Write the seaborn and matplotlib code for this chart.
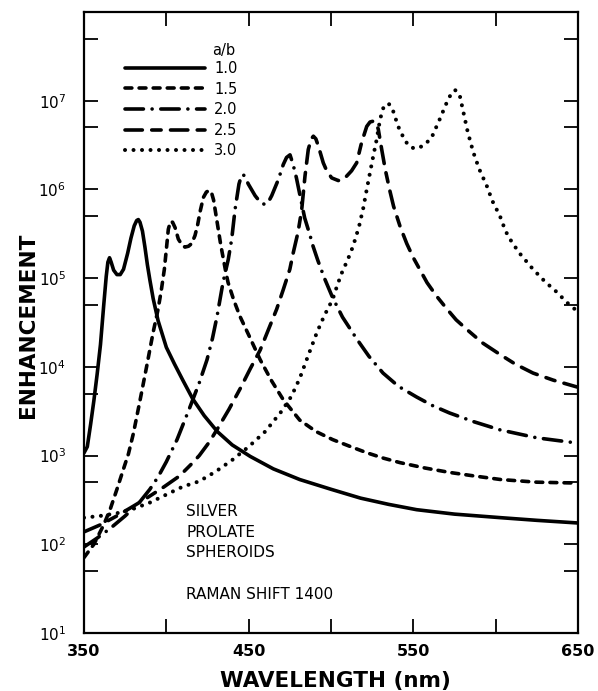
import numpy as np
import pandas as pd
import matplotlib
matplotlib.use("Agg")
import matplotlib.pyplot as plt
import seaborn as sns
from matplotlib.ticker import FixedLocator, NullFormatter, NullLocator

# ---------------- data (log10 of enhancement) ----------------
ratios = ["1.0", "1.5", "2.0", "2.5", "3.0"]

wl_10 = [350, 352, 354, 356, 358, 360, 362, 363.5, 364.5, 365.5, 366.5, 368, 370, 372, 374,
         376.5, 378.5, 380.5, 382, 383, 384, 385.5, 387, 388.5, 390, 392, 395, 400, 405, 410,
         416, 423, 431, 440, 451, 465, 481, 500, 518, 535, 552, 575, 603, 625, 650]
log_10 = [3.03, 3.10, 3.35, 3.62, 3.92, 4.25, 4.70, 5.02, 5.18, 5.23, 5.18, 5.09, 5.04, 5.04, 5.10,
          5.28, 5.45, 5.59, 5.65, 5.66, 5.63, 5.53, 5.35, 5.15, 4.98, 4.77, 4.52, 4.22, 4.03, 3.85,
          3.64, 3.45, 3.27, 3.12, 2.99, 2.85, 2.73, 2.62, 2.52, 2.45, 2.39, 2.34, 2.30, 2.27, 2.24]

wl_15 = [350, 356, 362, 366, 370, 374, 377, 380, 384, 388, 392, 395, 397, 398.8, 400.2, 401.2,
         402.5, 403.8, 405.3, 407.3, 409.3, 411.3, 413.5, 415.4, 417.4, 419, 420.5, 422.5, 424.3,
         426, 427.5, 428.7, 430.6, 433, 436, 437.5, 441, 444.7, 450, 457, 464, 471, 481, 491, 501,
         512, 522, 532, 542, 557, 572, 587, 603, 625, 650]
log_15 = [1.85, 2.00, 2.22, 2.40, 2.62, 2.85, 3.02, 3.25, 3.62, 4.00, 4.39, 4.65, 4.87, 5.10, 5.36, 5.55,
          5.64, 5.63, 5.57, 5.44, 5.38, 5.35, 5.36, 5.39, 5.48, 5.60, 5.75, 5.91, 5.97,
          5.99, 5.96, 5.88, 5.66, 5.38, 5.08, 4.95, 4.75, 4.57, 4.36, 4.08, 3.84, 3.63, 3.40, 3.27, 3.18,
          3.10, 3.03, 2.97, 2.92, 2.86, 2.81, 2.77, 2.73, 2.70, 2.69]

wl_20 = [350, 358, 366, 375, 384, 390, 395, 400, 406.5, 414, 420, 424.7, 428, 430.8, 434.4, 437.6,
         439.7, 441.7, 444.1, 445.5, 446.5, 447.5, 449.8, 453.9, 457.3, 459.9, 462, 464, 468, 471,
         473, 475.1, 477, 479, 481.2, 484, 487.3, 489.1, 492, 496, 501, 507, 515.8, 523, 531.6, 541,
         552, 562, 572, 587, 602.6, 625, 650]
log_20 = [1.97, 2.07, 2.18, 2.32, 2.48, 2.62, 2.76, 2.93, 3.18, 3.53, 3.82, 4.08, 4.32, 4.57, 4.95, 5.21,
          5.44, 5.77, 6.06, 6.15, 6.17, 6.15, 6.06, 5.93, 5.85, 5.83, 5.86, 5.93, 6.11, 6.28,
          6.36, 6.39, 6.28, 6.13, 5.93, 5.68, 5.48, 5.36, 5.20, 5.00, 4.78, 4.56, 4.31, 4.12, 3.93, 3.78,
          3.66, 3.56, 3.48, 3.38, 3.29, 3.20, 3.14]

wl_25 = [350, 360, 370, 380, 388, 398, 408, 415, 420, 426, 431, 438, 445, 451, 457, 462, 467, 471,
         475, 477, 480, 482.2, 484.2, 486.2, 488, 489.3, 490.8, 492.3, 495.3, 497.4, 500.4, 504.4,
         507, 509.5, 512.5, 515.6, 518.6, 521.7, 523.7, 525.7, 527.3, 528.7, 530.8, 533, 535.8, 538,
         542, 546, 550, 558.3, 564, 570.5, 576, 582.6, 592, 602.6, 612, 622.7, 635, 650]
log_25 = [2.14, 2.22, 2.32, 2.43, 2.52, 2.64, 2.77, 2.90, 3.00, 3.15, 3.30, 3.52, 3.76, 3.98, 4.19, 4.42, 4.65, 4.87,
          5.10, 5.28, 5.52, 5.77, 6.15, 6.45, 6.57, 6.60, 6.57, 6.49, 6.30, 6.21, 6.13, 6.10,
          6.11, 6.15, 6.21, 6.30, 6.53, 6.71, 6.76, 6.77, 6.75, 6.68, 6.45, 6.22, 5.98, 5.81,
          5.58, 5.39, 5.23, 4.95, 4.80, 4.65, 4.53, 4.42, 4.27, 4.14, 4.03, 3.93, 3.85, 3.77]

wl_30 = [350, 360, 370, 380, 390, 400, 410, 420, 430, 440, 450, 460, 470, 476, 481, 486, 491.5, 496,
         501, 504, 507, 510, 513.4, 517, 519.6, 521.7, 523.7, 525.7, 527.7, 529.8, 531.8, 533.5,
         534.8, 536.3, 537.8, 540.8, 544.9, 548, 551, 556, 561, 566, 570.3, 573, 575.3, 577, 578.3,
         580.3, 583, 586.4, 590, 594.6, 598, 602.6, 606, 610, 615, 622.7, 630, 637.3, 643, 650]
log_30 = [2.30, 2.32, 2.35, 2.40, 2.47, 2.56, 2.65, 2.71, 2.82, 2.95, 3.10, 3.27, 3.50, 3.67, 3.87, 4.12, 4.39, 4.58,
          4.76, 4.93, 5.08, 5.20, 5.36, 5.58, 5.79, 6.00, 6.19, 6.38, 6.56, 6.79, 6.92, 6.96,
          6.97, 6.94, 6.88, 6.71, 6.55, 6.48, 6.46, 6.49, 6.58, 6.79, 6.98, 7.08, 7.12, 7.10, 7.05,
          6.88, 6.65, 6.42, 6.23, 6.04, 5.87, 5.70, 5.53, 5.40, 5.27, 5.10, 4.96, 4.84, 4.73, 4.62]

x_ticks = [350, 400, 450, 500, 550, 600, 650]
x_tick_labels = ["350", "", "450", "", "550", "", "650"]
y_ticks = [1e1, 1e2, 1e3, 1e4, 1e5, 1e6, 1e7, 1e8]
y_tick_labels = ["$10^{1}$", "$10^{2}$", "$10^{3}$", "$10^{4}$", "$10^{5}$", "$10^{6}$", "$10^{7}$", ""]
y_minor_ticks = [5e1, 5e2, 5e3, 5e4, 5e5, 5e6, 5e7]

annotation_lines = ["SILVER", "PROLATE", "SPHEROIDS"]
annotation_shift = "RAMAN SHIFT 1400"

# ---------------- figure ----------------
sns.set_theme(style="ticks")
plt.rcParams["font.family"] = ["DejaVu Sans"]
plt.rcParams["mathtext.default"] = "regular"
plt.rcParams["axes.linewidth"] = 1.6
plt.rcParams["text.color"] = "black"
plt.rcParams["axes.labelcolor"] = "black"
plt.rcParams["xtick.color"] = "black"
plt.rcParams["ytick.color"] = "black"
plt.rcParams["axes.edgecolor"] = "black"

fig = plt.figure(figsize=(5.98, 6.91), dpi=100)
ax = fig.add_axes([84 / 598, 58 / 691, 494 / 598, 621 / 691])

frames = []
for r, wl, lg in zip(ratios, [wl_10, wl_15, wl_20, wl_25, wl_30],
                     [log_10, log_15, log_20, log_25, log_30]):
    frames.append(pd.DataFrame({"wavelength": wl,
                                "enhancement": np.power(10.0, lg),
                                "a/b": r}))
df = pd.concat(frames, ignore_index=True)

dash_map = {"1.0": "",
            "1.5": (1.9, 2.0),
            "2.0": (5.1, 2.4, 0.01, 2.4),
            "2.5": (4.8, 2.6, 2.6, 2.6),
            "3.0": (0.01, 2.0)}

sns.lineplot(data=df, x="wavelength", y="enhancement", style="a/b", style_order=ratios,
             dashes=dash_map, color="black", linewidth=2.6, estimator=None, sort=False,
             legend=False, ax=ax, dash_capstyle="round", solid_capstyle="round")

# dotted curve: slightly bigger, well separated round dots
dotted = ax.lines[4]
dotted.set_linewidth(2.9)
dotted.set_dashes((0.01, 2.1))

ax.set_yscale("log")
ax.set_xlim(350, 650)
ax.set_ylim(1e1, 1e8)

ax.xaxis.set_major_locator(FixedLocator(x_ticks))
ax.set_xticklabels(x_tick_labels)
ax.xaxis.set_minor_locator(NullLocator())
ax.yaxis.set_major_locator(FixedLocator(y_ticks))
ax.set_yticklabels(y_tick_labels)
ax.yaxis.set_minor_locator(FixedLocator(y_minor_ticks))
ax.yaxis.set_minor_formatter(NullFormatter())

ax.tick_params(which="both", direction="in", length=10, width=1.3, top=True, right=True)
ax.tick_params(axis="x", labelsize=11.5, pad=8)
ax.tick_params(axis="y", labelsize=11, pad=13)
for lbl in ax.get_xticklabels():
    lbl.set_fontweight("bold")

ax.set_xlabel("WAVELENGTH (nm)", fontsize=15.5, fontweight="bold", color="black")
ax.xaxis.set_label_coords((335 - 84) / 494, (633 - 671) / 621)
ax.set_ylabel("ENHANCEMENT", fontsize=15.5, fontweight="bold", color="black")
ax.yaxis.set_label_coords((38 - 84) / 494, (633 - 325) / 621)

# legend
handles = ax.lines[:5]
ax.legend(handles, ratios, loc="upper left",
          bbox_to_anchor=((125 - 84) / 494, (633 - 61) / 621),
          frameon=False, fontsize=10.5, handlelength=5.5, handletextpad=0.6,
          labelspacing=0.38, borderpad=0, borderaxespad=0)
ax.text((212 - 84) / 494, (633 - 50) / 621, "a/b", fontsize=10.5, ha="left", va="center",
        transform=ax.transAxes)

for txt, yb in zip(annotation_lines, [516, 537, 557]):
    ax.text((186 - 84) / 494, (633 - yb) / 621, txt, fontsize=11, ha="left", va="baseline",
            transform=ax.transAxes)
ax.text((186 - 84) / 494, (633 - 599) / 621, annotation_shift, fontsize=11, ha="left",
        va="baseline", transform=ax.transAxes)

fig.savefig("out.png", dpi=100)
